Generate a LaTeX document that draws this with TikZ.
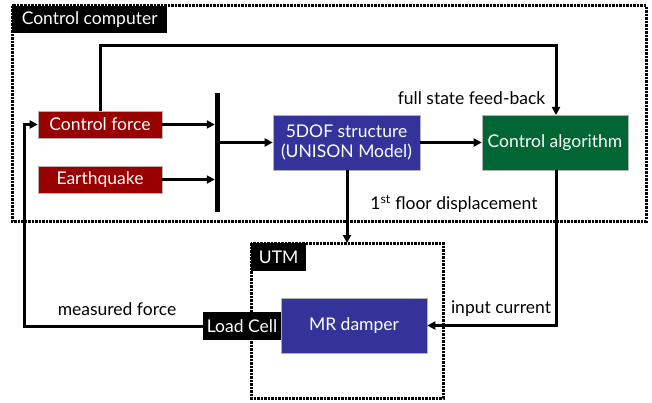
\documentclass[tikz,border=0pt]{standalone}
\usepackage{fontspec}
\setmainfont{Lato}
\usetikzlibrary{arrows.meta}
\definecolor{dred}{HTML}{990000}
\definecolor{dblue}{HTML}{333399}
\definecolor{dgreen}{HTML}{006633}
\begin{document}
\begin{tikzpicture}[x=1pt,y=-1pt,
  every node/.style={font=\fontsize{17.5}{20}\selectfont, inner sep=0pt},
  redbox/.style={fill=dred, draw=gray!60, line width=0.6pt, text=white, minimum width=124pt, minimum height=27pt},
  bigbox/.style={draw=gray!60, line width=0.6pt, text=white, minimum width=147pt, minimum height=55pt, align=center},
  tag/.style={fill=black, text=white, anchor=north west},
  dotbox/.style={line width=3pt, dash pattern=on 2.5pt off 1pt},
  conn/.style={line width=3pt, -{Triangle[length=8pt,width=8pt]}},
  lbl/.style={text=black}]
\useasboundingbox (0,0) rectangle (652,403);
% containers
\draw[dotbox] (12,6) rectangle (646,221);
\node[tag, minimum width=155pt, minimum height=27pt] (cclbl) at (12,6) {Control computer};
\draw[dotbox] (251,243) rectangle (443,398);
\node[tag, minimum width=55pt, minimum height=28pt] (utmlbl) at (251,243) {UTM};
\coordinate (utmtop) at (347,243);
% blocks
\node[redbox] (cf) at (100,124.5) {Control force};
\node[redbox] (eq) at (100,179.5) {Earthquake};
\node[fill=black, minimum width=5pt, minimum height=119pt] (bar) at (217.5,152.5) {};
\node[bigbox, fill=dblue] (dof) at (346.5,142.5) {5DOF structure\\(UNISON Model)};
\node[bigbox, fill=dgreen, minimum width=146pt] (ca) at (555,142.5) {Control algorithm};
\node[bigbox, fill=dblue, minimum width=146pt] (mr) at (354,325.5) {MR damper};
\node[fill=black, text=white, minimum width=78pt, minimum height=28pt] (lc) at (242,326) {Load Cell};
% connectors
\draw[conn] (cf.east) -- (cf.east -| bar.west);
\draw[conn] (eq.east) -- (eq.east -| bar.west);
\draw[conn] (bar.east |- dof.west) -- (dof.west);
\draw[conn] (dof.east) -- (ca.west);
\draw[conn] (cf.north) |- (556,46) -- (556,115);
\draw[conn] (347,170) -- (utmtop);
\draw[conn] (556,170) |- (mr.east);
\draw[conn] (lc.west) -| (24,124.5) -- (cf.west);
% labels
\node[lbl] (fsfb) at (471.5,98) {full state feed-back};
\node[lbl] (fld) at (454,204) {1\textsuperscript{st} floor displacement};
\node[lbl] (mf) at (117,309) {measured force};
\node[lbl] (ic) at (501,309) {input current};
\end{tikzpicture}
\end{document}
